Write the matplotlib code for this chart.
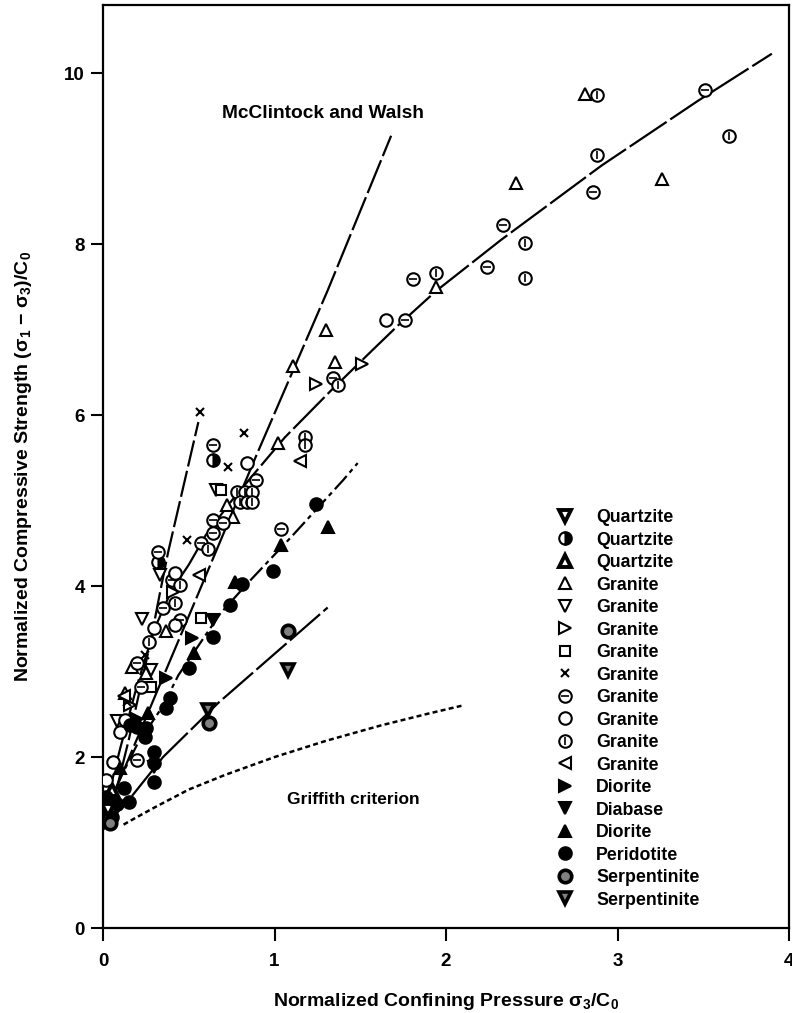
import matplotlib
matplotlib.use("Agg")
import matplotlib.pyplot as plt
from matplotlib.lines import Line2D

plt.rcParams['font.family'] = ['Liberation Sans', 'DejaVu Sans']
plt.rcParams['font.weight'] = 'bold'
plt.rcParams['mathtext.fontset'] = 'custom'
plt.rcParams['mathtext.rm'] = 'Liberation Sans:bold'
plt.rcParams['mathtext.it'] = 'Liberation Sans:bold'
plt.rcParams['mathtext.bf'] = 'Liberation Sans:bold'
plt.rcParams['mathtext.default'] = 'regular'

# ---------------- data ----------------
qtz_tri_down_x = [0.03]
qtz_tri_down_y = [1.38]
qtz_half_x = [0.32, 0.64]
qtz_half_y = [4.28, 5.48]
qtz_tri_up_x = [0.05]
qtz_tri_up_y = [1.62]

gr_tri_up_x = [2.81, 2.41, 3.26, 1.94, 1.30, 1.105, 1.35, 1.02, 0.725, 0.76, 0.37, 0.17, 0.13, 0.25]
gr_tri_up_y = [9.76, 8.72, 8.76, 7.50, 7.00, 6.58, 6.62, 5.67, 4.95, 4.81, 3.48, 3.05, 2.75, 2.98]
gr_tri_down_x = [0.33, 0.23, 0.66, 0.28, 0.08]
gr_tri_down_y = [4.13, 3.61, 5.12, 3.02, 2.42]
gr_tri_right_x = [1.24, 1.51, 0.41, 0.16]
gr_tri_right_y = [6.37, 6.60, 3.93, 2.61]
gr_square_x = [0.57, 0.69, 0.28]
gr_square_y = [3.63, 5.12, 2.82]
gr_x_x = [0.567, 0.82, 0.73, 0.49, 0.245, 0.14]
gr_x_y = [6.04, 5.79, 5.39, 4.54, 3.19, 2.64]
gr_hbar_x = [3.51, 2.33, 2.24, 1.81, 1.76, 1.34, 0.89, 0.64, 0.57, 0.64, 0.64, 0.70,
             0.32, 0.40, 0.35, 0.22, 0.20, 1.035, 0.20, 0.45, 2.86]
gr_hbar_y = [9.80, 8.23, 7.73, 7.59, 7.12, 6.43, 5.24, 5.65, 4.50, 4.62, 4.77, 4.74,
             4.40, 4.07, 3.74, 2.82, 1.96, 4.67, 3.10, 3.60, 8.61]
gr_circle_x = [1.65, 0.84, 0.42, 0.30, 0.42, 0.13, 0.10, 0.06, 0.02]
gr_circle_y = [7.11, 5.44, 4.15, 3.51, 3.54, 2.43, 2.29, 1.94, 1.73]
gr_vbar_x = [3.65, 2.88, 2.88, 2.46, 2.46, 1.94, 1.37, 1.18, 1.18, 0.78, 0.83, 0.87,
             0.80, 0.84, 0.87, 0.61, 0.45, 0.42, 0.27]
gr_vbar_y = [9.27, 9.75, 9.04, 8.02, 7.60, 7.66, 6.35, 5.74, 5.65, 5.10, 5.10, 5.10,
             4.98, 4.98, 4.98, 4.44, 4.01, 3.80, 3.35]
gr_tri_left_x = [1.15, 0.56, 0.12]
gr_tri_left_y = [5.47, 4.13, 2.72]
dio_tri_right_x = [0.52, 0.37, 0.20]
dio_tri_right_y = [3.39, 2.92, 2.45]
diabase_x = [0.64, 0.30]
diabase_y = [3.60, 1.88]
dio_tri_up_x = [1.31, 1.04, 0.77, 0.53, 0.26, 0.10]
dio_tri_up_y = [4.69, 4.48, 4.05, 3.22, 2.51, 1.87]
perid_x = [1.24, 0.99, 0.81, 0.74, 0.64, 0.50, 0.39, 0.37, 0.25, 0.245, 0.20, 0.30,
           0.30, 0.30, 0.12, 0.15, 0.02, 0.08, 0.16, 0.05]
perid_y = [4.96, 4.18, 4.03, 3.78, 3.40, 3.04, 2.69, 2.58, 2.34, 2.23, 2.35, 2.06,
           1.93, 1.71, 1.64, 1.47, 1.53, 1.45, 2.38, 1.30]
serp_circle_x = [1.08, 0.62, 0.04]
serp_circle_y = [3.48, 2.40, 1.23]
serp_tri_x = [1.08, 0.61]
serp_tri_y = [3.02, 2.55]

# fitted / theoretical curves
lineA_x = [0.0, 0.07, 0.15, 0.275, 0.33, 0.38, 0.556]
lineA_y = [1.15, 1.55, 2.20, 3.33, 3.90, 4.40, 5.92]
mw_x = [0.0, 0.49, 0.89, 1.31, 1.68]
mw_y = [1.27, 3.60, 5.51, 7.46, 9.27]
lineC_x = [0.0, 0.10, 0.20, 0.30, 0.40, 0.50, 0.60, 0.75, 0.90, 1.06, 1.33, 1.56,
           1.72, 1.94, 2.32, 2.906, 3.47, 3.90]
lineC_y = [1.30, 2.10, 2.85, 3.50, 3.95, 4.25, 4.60, 5.00, 5.36, 5.74, 6.29, 6.74,
           7.05, 7.45, 8.05, 8.92, 9.68, 10.23]
lineD_x = [0.0, 0.10, 0.20, 0.35, 0.44, 0.684, 0.86, 1.095, 1.40, 1.485]
lineD_y = [1.30, 1.75, 2.15, 2.60, 2.96, 3.68, 4.07, 4.57, 5.24, 5.44]
lineE_x = [0.0, 0.07, 0.175, 0.35, 0.67, 1.31]
lineE_y = [1.15, 1.32, 1.56, 2.00, 2.63, 3.75]
griff_x = [0.12, 0.146, 0.3, 0.5, 0.71, 1.0, 1.3, 1.62, 1.9, 2.09]
griff_y = [1.21, 1.24, 1.41, 1.62, 1.79, 2.00, 2.19, 2.37, 2.51, 2.60]

x_ticks = [0, 1, 2, 3, 4]
y_ticks = [0, 2, 4, 6, 8, 10]

# ---------------- figure ----------------
W, H = 792, 1013
fig = plt.figure(figsize=(W / 100, H / 100), dpi=100)
ax = fig.add_axes([103 / W, 1 - 928 / H, (789 - 103) / W, (928 - 5) / H])
ax.set_xlim(0, 4)
ax.set_ylim(0, 10.8)

lw = 1.6
ax.plot(lineA_x, lineA_y, color='black', lw=lw, ls=(0, (12, 2)), zorder=1)
ax.plot(mw_x, mw_y, color='black', lw=lw, ls=(0, (16, 2)), zorder=1)
ax.plot(lineC_x, lineC_y, color='black', lw=lw, ls=(0, (20, 2)), zorder=1)
ax.plot(lineD_x, lineD_y, color='black', lw=lw, ls=(0, (8, 2, 2, 2)), zorder=1)
ax.plot(lineE_x, lineE_y, color='black', lw=lw, ls=(0, (18, 2)), zorder=1)
ax.plot(griff_x, griff_y, color='black', lw=1.8, ls=(0, (2.0, 1.3)), zorder=1)

ms = 9
mew = 1.5
base = dict(ls='none', color='black', markeredgecolor='black', zorder=3)

def pts(x, y, marker, face='white', size=ms, ew=mew, **kw):
    d = dict(base)
    d.update(kw)
    return ax.plot(x, y, marker=marker, markersize=size, markerfacecolor=face,
                   markeredgewidth=ew, **d)[0]

h_qtd = pts(qtz_tri_down_x, qtz_tri_down_y, 'v', face='white', ew=2.8)
h_qh = pts(qtz_half_x, qtz_half_y, 'o', face='black', fillstyle='right',
           markerfacecoloralt='white')
h_qtu = pts(qtz_tri_up_x, qtz_tri_up_y, '^', face='white', ew=2.8)
h_gtu = pts(gr_tri_up_x, gr_tri_up_y, '^')
h_gtd = pts(gr_tri_down_x, gr_tri_down_y, 'v')
h_gtr = pts(gr_tri_right_x, gr_tri_right_y, '>')
h_gsq = pts(gr_square_x, gr_square_y, 's', size=7)
h_gx = pts(gr_x_x, gr_x_y, 'x', size=6, ew=1.5)
h_gh1 = pts(gr_hbar_x, gr_hbar_y, 'o')
h_gh2 = ax.plot(gr_hbar_x, gr_hbar_y, ls='none', marker='_', markersize=6,
                markeredgewidth=1.2, color='black', zorder=4)[0]
h_gc = pts(gr_circle_x, gr_circle_y, 'o')
h_gv1 = pts(gr_vbar_x, gr_vbar_y, 'o')
h_gv2 = ax.plot(gr_vbar_x, gr_vbar_y, ls='none', marker='|', markersize=6,
                markeredgewidth=1.2, color='black', zorder=4)[0]
h_gtl = pts(gr_tri_left_x, gr_tri_left_y, '<')
h_dtr = pts(dio_tri_right_x, dio_tri_right_y, '>', face='black')
h_dia = pts(diabase_x, diabase_y, 'v', face='black')
h_dtu = pts(dio_tri_up_x, dio_tri_up_y, '^', face='black')
h_per = pts(perid_x, perid_y, 'o', face='black')
h_sc = pts(serp_circle_x, serp_circle_y, 'o', face='#808080', ew=2.6)
h_st = pts(serp_tri_x, serp_tri_y, 'v', face='#808080', ew=2.6)

labels = ['Quartzite', 'Quartzite', 'Quartzite', 'Granite', 'Granite', 'Granite',
          'Granite', 'Granite', 'Granite', 'Granite', 'Granite', 'Granite',
          'Diorite', 'Diabase', 'Diorite', 'Peridotite', 'Serpentinite', 'Serpentinite']
handles = [h_qtd, h_qh, h_qtu, h_gtu, h_gtd, h_gtr, h_gsq, h_gx, (h_gh1, h_gh2),
           h_gc, (h_gv1, h_gv2), h_gtl, h_dtr, h_dia, h_dtu, h_per, h_sc, h_st]
leg = ax.legend(handles, labels, loc='upper left',
                bbox_to_anchor=((557 - 103) / 686, (928 - 509) / 923),
                frameon=False, handlelength=0.9, handletextpad=1.3,
                labelspacing=0.31, borderpad=0, borderaxespad=0, numpoints=1,
                prop={'weight': 'bold', 'size': 12.8})

ax.text(1.28, 9.53, 'McClintock and Walsh', ha='center', va='center',
        fontsize=13.8, fontweight='bold')
ax.text(1.46, 1.50, 'Griffith criterion', ha='center', va='center',
        fontsize=12.5, fontweight='bold')

ax.set_xticks(x_ticks)
ax.set_yticks(y_ticks)
ax.tick_params(direction='out', length=9, width=1.5, labelsize=13.5, pad=4)
ax.tick_params(axis='x', pad=9)
for s in ax.spines.values():
    s.set_linewidth(1.6)

ax.set_xlabel(r'Normalized Confining Pressure $\sigma_3$/C$_0$', fontsize=14,
              fontweight='bold', labelpad=15)
ax.set_ylabel(r'Normalized Compressive Strength ($\sigma_1$ $-$ $\sigma_3$)/C$_0$',
              fontsize=14, fontweight='bold', labelpad=22)

fig.savefig('out.png', dpi=100)
